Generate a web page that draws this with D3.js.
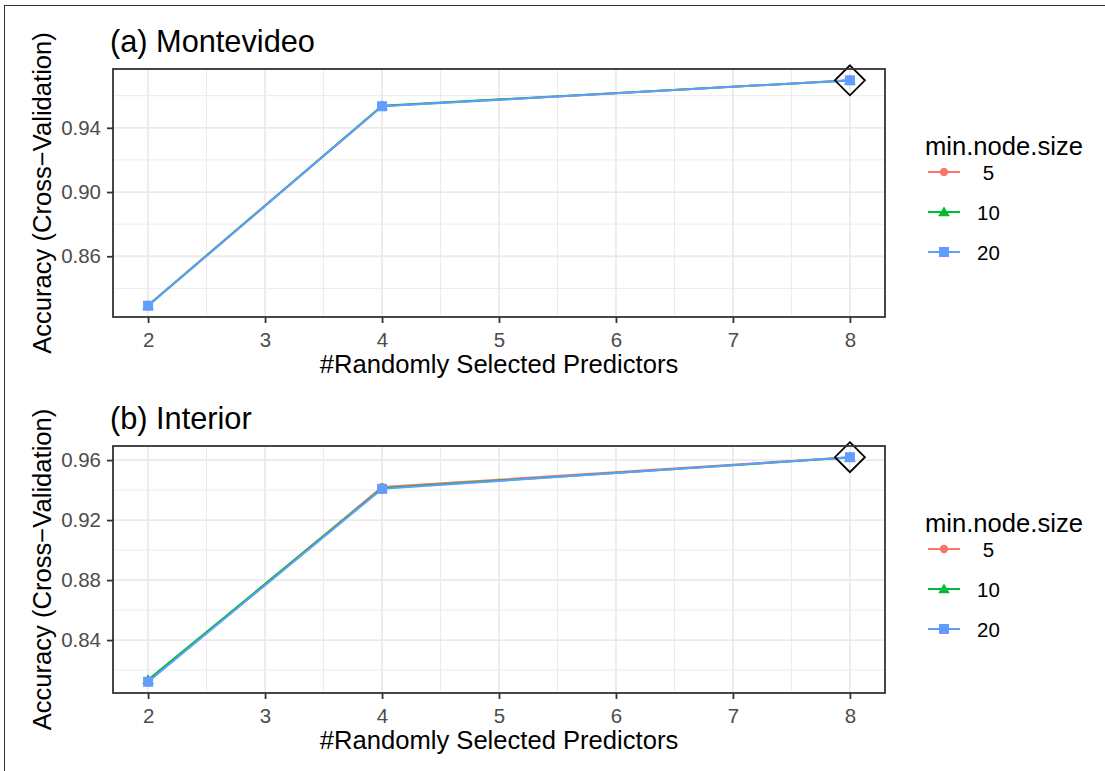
<!DOCTYPE html>
<html><head><meta charset="utf-8">
<script src="https://cdn.jsdelivr.net/npm/d3@7"></script>
<style>
body{margin:0;background:#fff;}
text{font-family:"Liberation Sans",Arial,sans-serif;}
</style></head>
<body>
<svg id="chart" width="1105" height="771"></svg>
<script>
const mtry = [2, 4, 8];
const nodeSizes = ["5", "10", "20"];
const legendLabels = [" 5", "10", "20"];
const colors = ["#F8766D", "#00BA38", "#619CFF"];
const xTicks = [2, 3, 4, 5, 6, 7, 8];

const montevideo5  = [0.8295, 0.9535, 0.9696];
const montevideo10 = [0.8294, 0.9537, 0.9695];
const montevideo20 = [0.8292, 0.9534, 0.9696];
const montevideoYTicks = [0.86, 0.90, 0.94];

const interior5  = [0.8125, 0.9420, 0.9619];
const interior10 = [0.8135, 0.9412, 0.9617];
const interior20 = [0.8122, 0.9408, 0.9619];
const interiorYTicks = [0.84, 0.88, 0.92, 0.96];

const panels = [
  {title: "(a) Montevideo", series: [montevideo5, montevideo10, montevideo20], yTicks: montevideoYTicks, top: 69, bottom: 317},
  {title: "(b) Interior", series: [interior5, interior10, interior20], yTicks: interiorYTicks, top: 446, bottom: 693}
];

const BASE = 25.6;
const svg = d3.select("#chart");
// outer frame
svg.append("rect").attr("x", 4.5).attr("y", 5.5).attr("width", 1200).attr("height", 900)
  .attr("fill", "none").attr("stroke", "#333").attr("stroke-width", 1);

const left = 113, right = 885;
const x = d3.scaleLinear().domain([2 - 0.3, 8 + 0.3]).range([left, right]);

panels.forEach(p => {
  const all = p.series.flat();
  const [mn, mx] = d3.extent(all);
  const pad = (mx - mn) * 0.05;
  const y = d3.scaleLinear().domain([mn - pad, mx + pad]).range([p.bottom, p.top]);
  const g = svg.append("g");

  // grid minor
  const xMinor = d3.range(2.5, 8, 1);
  const yt = p.yTicks;
  const step = yt[1] - yt[0];
  const yMinor = [];
  for (let v = yt[0] - step / 2; v <= y.domain()[1]; v += step) if (v >= y.domain()[0]) yMinor.push(v);
  g.selectAll(".vminor").data(xMinor).join("line").attr("class", "vminor")
    .attr("x1", d => x(d)).attr("x2", d => x(d)).attr("y1", p.top).attr("y2", p.bottom)
    .attr("stroke", "#EBEBEB").attr("stroke-width", 1);
  g.selectAll(".hminor").data(yMinor).join("line").attr("class", "hminor")
    .attr("x1", left).attr("x2", right).attr("y1", d => y(d)).attr("y2", d => y(d))
    .attr("stroke", "#EBEBEB").attr("stroke-width", 1);
  g.selectAll(".vmajor").data(xTicks).join("line").attr("class", "vmajor")
    .attr("x1", d => x(d)).attr("x2", d => x(d)).attr("y1", p.top).attr("y2", p.bottom)
    .attr("stroke", "#EBEBEB").attr("stroke-width", 1.8);
  g.selectAll(".hmajor").data(yt).join("line").attr("class", "hmajor")
    .attr("x1", left).attr("x2", right).attr("y1", d => y(d)).attr("y2", d => y(d))
    .attr("stroke", "#EBEBEB").attr("stroke-width", 1.8);

  // lines
  const line = d3.line().x((d, i) => x(mtry[i])).y(d => y(d));
  p.series.forEach((s, k) => {
    g.append("path").datum(s).attr("d", line).attr("fill", "none")
      .attr("stroke", colors[k]).attr("stroke-width", 2);
  });
  // points
  p.series.forEach((s, k) => {
    s.forEach((v, i) => drawShape(g, k, x(mtry[i]), y(v)));
  });
  // best diamond
  const bestIdx = d3.maxIndex(p.series[0]);
  const bx = x(mtry[bestIdx]), by = y(d3.max(p.series.map(s => s[bestIdx])));
  g.append("path").attr("d", `M${bx},${by-15}L${bx+15},${by}L${bx},${by+15}L${bx-15},${by}Z`)
    .attr("fill", "none").attr("stroke", "#000").attr("stroke-width", 1.8);

  // border
  g.append("rect").attr("x", left).attr("y", p.top).attr("width", right - left).attr("height", p.bottom - p.top)
    .attr("fill", "none").attr("stroke", "#333333").attr("stroke-width", 1.8);

  // axes
  const xa = g.append("g").attr("transform", `translate(0,${p.bottom})`)
    .call(d3.axisBottom(x).tickValues(xTicks).tickFormat(d3.format("d")).tickSize(6).tickPadding(9));
  const ya = g.append("g").attr("transform", `translate(${left},0)`)
    .call(d3.axisLeft(y).tickValues(yt).tickFormat(d3.format(".2f")).tickSize(6).tickPadding(6));
  [xa, ya].forEach(a => {
    a.select(".domain").remove();
    a.selectAll(".tick line").attr("stroke", "#333333").attr("stroke-width", 1.8);
    a.selectAll(".tick text").attr("fill", "#4D4D4D").style("font-size", (BASE * 0.8) + "px")
      .style("font-family", "'Liberation Sans', Arial, sans-serif");
  });

  // titles
  g.append("text").attr("x", 110).attr("y", p.top - 17).text(p.title)
    .style("font-size", (BASE * 1.2) + "px").attr("fill", "#000");
  g.append("text").attr("x", (left + right) / 2).attr("y", p.bottom + 56).attr("text-anchor", "middle")
    .text("#Randomly Selected Predictors").style("font-size", BASE + "px").attr("fill", "#000");
  g.append("text").attr("transform", `translate(51,${(p.top + p.bottom) / 2}) rotate(-90)`)
    .attr("text-anchor", "middle").text("Accuracy (Cross\u2212Validation)")
    .style("font-size", BASE + "px").attr("fill", "#000");

  // legend
  const ly = p.top + 86;
  g.append("text").attr("x", 925).attr("y", ly).text("min.node.size").style("font-size", BASE + "px");
  nodeSizes.forEach((n, k) => {
    const cy = ly + 17 + 40 * k;
    g.append("line").attr("x1", 928).attr("x2", 960).attr("y1", cy).attr("y2", cy)
      .attr("stroke", colors[k]).attr("stroke-width", 2);
    drawShape(g, k, 944, cy);
    g.append("text").attr("x", 977).attr("y", cy + 7.5).text(legendLabels[k])
      .style("font-size", (BASE * 0.8) + "px").style("white-space", "pre");
  });
});

function drawShape(g, k, cx, cy) {
  if (k === 0) {
    g.append("circle").attr("cx", cx).attr("cy", cy).attr("r", 4.2).attr("fill", colors[0]);
  } else if (k === 1) {
    g.append("path").attr("d", `M${cx},${cy-5.5}L${cx+5.8},${cy+4.2}L${cx-5.8},${cy+4.2}Z`).attr("fill", colors[1]);
  } else {
    g.append("rect").attr("x", cx - 5).attr("y", cy - 5).attr("width", 10).attr("height", 10).attr("fill", colors[2]);
  }
}
</script>
</body></html>
